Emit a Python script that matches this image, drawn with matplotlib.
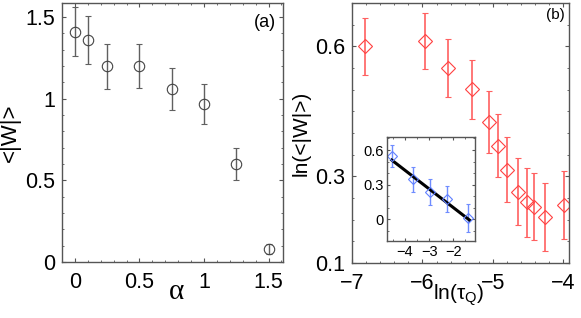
import matplotlib.pyplot as plt
from matplotlib.ticker import MultipleLocator

plt.rcParams['font.family'] = ['Liberation Sans', 'DejaVu Sans']
plt.rcParams['mathtext.fontset'] = 'custom'
plt.rcParams['mathtext.rm'] = 'Liberation Sans'
plt.rcParams['mathtext.it'] = 'Liberation Sans:italic'

# panel (a): <|W|> vs alpha
alpha = [0.0, 0.1, 0.25, 0.5, 0.75, 1.0, 1.25, 1.5]
w_mean = [1.41, 1.36, 1.20, 1.20, 1.06, 0.97, 0.60, 0.08]
w_err = [0.15, 0.145, 0.138, 0.135, 0.128, 0.122, 0.097, 0.03]

# panel (b): ln(<|W|>) vs ln(tau_Q)
ln_tau = [-6.82, -5.96, -5.63, -5.30, -5.05, -4.92, -4.80, -4.64, -4.515, -4.42, -4.26, -3.99]
ln_w = [0.600, 0.612, 0.550, 0.501, 0.426, 0.371, 0.315, 0.265, 0.240, 0.230, 0.206, 0.234]
ln_w_err = [0.066, 0.065, 0.067, 0.068, 0.071, 0.073, 0.075, 0.077, 0.079, 0.078, 0.079, 0.078]

# inset
ins_x = [-4.55, -3.67, -2.98, -2.27, -1.40]
ins_y = [0.548, 0.346, 0.234, 0.176, 0.009]
ins_err = [0.097, 0.106, 0.111, 0.115, 0.122]
fit_x = [-4.55, -1.33]
fit_y = [0.513, -0.006]

fig = plt.figure(figsize=(5.81, 3.18), dpi=100)
ax1 = fig.add_axes([0.1067, 0.176, 0.380, 0.814])
ax2 = fig.add_axes([0.606, 0.173, 0.373, 0.817])
ins = fig.add_axes([0.6656, 0.243, 0.152, 0.327])

edge = '#555555'


def frame(ax, size=13, major=3, minor=1.5, pad=7):
    for s in ax.spines.values():
        s.set_color(edge)
        s.set_linewidth(1.0)
    ax.tick_params(which='both', direction='in', top=True, right=True,
                   color=edge, labelsize=size)
    ax.tick_params(axis='x', pad=pad)
    ax.tick_params(axis='y', pad=pad * 0.7)
    ax.tick_params(which='major', length=major)
    ax.tick_params(which='minor', length=minor)


ax1.errorbar(alpha, w_mean, yerr=w_err, fmt='o', mfc='none', mec='#444444',
             ms=7.5, mew=0.8, ecolor='#606060', elinewidth=1.0, capsize=2)
ax1.set_xlim(-0.1, 1.61)
ax1.set_ylim(0, 1.585)
ax1.set_xticks([0, 0.5, 1, 1.5])
ax1.set_xticklabels(['0', '0.5', '1', '1.5'])
ax1.xaxis.set_minor_locator(MultipleLocator(0.1))
ax1.set_yticks([0, 0.5, 1, 1.5])
ax1.set_yticklabels(['0', '0.5', '1', '1.5'])
ax1.yaxis.set_minor_locator(MultipleLocator(0.1))
frame(ax1, size=15.5)
ax1.set_ylabel('<|W|>', fontsize=16, labelpad=3)
ax1.text(0.52, -0.065, '\u03b1', transform=ax1.transAxes, fontsize=21,
         family='Liberation Serif', ha='center', va='top')
ax1.text(0.92, 0.925, '(a)', transform=ax1.transAxes, fontsize=13,
         ha='center', va='center')

ax2.errorbar(ln_tau, ln_w, yerr=ln_w_err, fmt='D', mfc='none', mec='#ff4040',
             ms=7.5, mew=0.8, ecolor='#ff6060', elinewidth=1.2, capsize=2)
ax2.set_xlim(-7.0, -3.92)
ax2.set_ylim(0.1, 0.70)
ax2.set_xticks([-7, -6, -5, -4])
ax2.set_xticklabels(['\u22127', '\u22126', '\u22125', '\u22124'])
ax2.xaxis.set_minor_locator(MultipleLocator(0.2))
ax2.set_yticks([0.1, 0.3, 0.6])
ax2.set_yticklabels(['0.1', '0.3', '0.6'])
ax2.yaxis.set_minor_locator(MultipleLocator(0.05))
frame(ax2, size=15.5)
ax2.set_ylabel('ln(<|W|>)', fontsize=15, labelpad=3)
ax2.text(0.49, -0.075, r'ln($\mathrm{\tau_Q}$)', transform=ax2.transAxes,
         fontsize=15, ha='center', va='top')
ax2.text(0.94, 0.955, '(b)', transform=ax2.transAxes, fontsize=11,
         ha='center', va='center')

ins.errorbar(ins_x, ins_y, yerr=ins_err, fmt='D', mfc='none', mec='#6080ff',
             ms=5.5, mew=0.8, ecolor='#6f8cff', elinewidth=1.0, capsize=1.5)
ins.plot(fit_x, fit_y, color='black', lw=2.2)
ins.set_xlim(-4.76, -1.1)
ins.set_ylim(-0.185, 0.715)
ins.set_xticks([-4, -3, -2])
ins.set_xticklabels(['\u22124', '\u22123', '\u22122'])
ins.set_yticks([0, 0.3, 0.6])
ins.set_yticklabels(['0', '0.3', '0.6'])
ins.xaxis.set_minor_locator(MultipleLocator(0.5))
ins.yaxis.set_minor_locator(MultipleLocator(0.1))
frame(ins, size=10.5, major=2.5, minor=1.2, pad=3)

fig.savefig('out.png', dpi=100)
